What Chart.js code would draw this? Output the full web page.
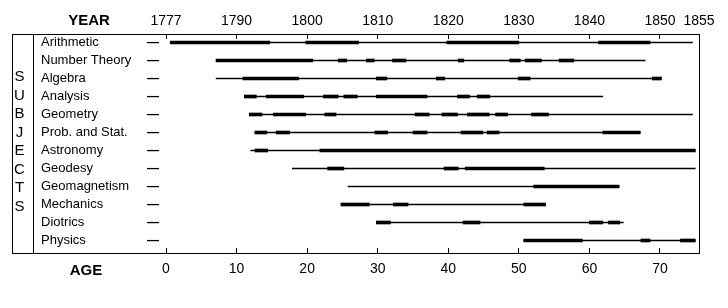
<!DOCTYPE html>
<html><head><meta charset="utf-8">
<script src="https://cdn.jsdelivr.net/npm/chart.js@4.4.1/dist/chart.umd.min.js"></script>
<style>html,body{margin:0;padding:0;background:#fff;}canvas{display:block}</style>
</head><body>
<canvas id="c" width="728" height="308"></canvas>
<script>
// ---- data (ages of Gauss) ----
const subjects = ['Arithmetic','Number Theory','Algebra','Analysis','Geometry','Prob. and Stat.','Astronomy','Geodesy','Geomagnetism','Mechanics','Diotrics','Physics'];
const spanStart = [0.6, 7.1, 7.1, 11.1, 11.8, 12.6, 12.0, 17.9, 25.8, 24.8, 29.8, 50.7];
const spanEnd   = [74.6, 67.9, 70.2, 61.9, 74.6, 67.2, 75.0, 75.0, 64.2, 53.8, 64.8, 75.0];
const intenseSegments = [
  [[0.6,14.7],[19.8,27.3],[39.8,50.0],[61.3,68.6]],
  [[7.1,20.8],[24.4,25.6],[28.4,29.5],[32.1,34.0],[41.4,42.2],[48.7,50.2],[50.9,53.2],[55.7,57.8]],
  [[10.9,18.8],[29.8,31.3],[38.3,39.5],[49.9,51.6],[68.9,70.2]],
  [[11.1,12.8],[14.2,19.5],[22.3,24.4],[25.2,27.1],[29.8,37.0],[41.3,43.0],[44.1,45.9]],
  [[11.8,13.6],[15.2,19.8],[22.5,24.1],[35.3,37.3],[39.1,41.3],[42.7,45.8],[46.7,48.4],[51.8,54.2]],
  [[12.6,14.3],[15.6,17.5],[29.6,31.4],[35.0,37.0],[41.8,44.9],[45.5,47.2],[61.9,67.2]],
  [[12.6,14.4],[21.8,75.0]],
  [[22.9,25.2],[39.4,41.4],[42.4,53.6]],
  [[52.1,64.2]],
  [[24.8,28.8],[32.2,34.3],[50.7,53.8]],
  [[29.8,31.8],[42.1,44.5],[60.0,61.9],[62.7,64.3]],
  [[50.7,59.0],[67.3,68.6],[72.9,75.0]]
];
const ageTicks  = [0,10,20,30,40,50,60,70];
const ageLabels = ['0','10','20','30','40','50','60','70'];
const yearTicks  = [0,10,20,30,40,50,60,70,75.53];
const yearLabels = ['1777','1790','1800','1810','1820','1830','1840','1850','1855'];
const titleLetters = ['S','U','B','J','E','C','T','S'];

// ---- layout constants ----
const X_MIN = -18.85, X_MAX = 75.53;
const Y_MIN = -3.5/18, Y_MAX = 205.5/18;
const FONT = "'Liberation Sans', Arial, sans-serif";

const thinData = subjects.map((s,i)=>({x:[spanStart[i], spanEnd[i]], y:i}));
const thickData = [];
intenseSegments.forEach((segs,i)=>segs.forEach(sg=>thickData.push({x:[sg[0],sg[1]], y:i})));

const rowTicks = s => { s.ticks = subjects.map((_,i)=>({value:i})); };
const fixV = w => s => { s.width = w; s.paddingTop = 0; s.paddingBottom = 0; };

const frame = {
  id:'frame',
  afterDraw(chart){
    const {ctx, chartArea:a} = chart;
    ctx.save();
    ctx.strokeStyle = '#000'; ctx.lineWidth = 1;
    const top = a.top - 4.5, bot = a.bottom + 5.5;
    ctx.strokeRect(12.5, top, a.right + 0.5 - 12.5, bot - top);
    ctx.beginPath(); ctx.moveTo(a.left + 0.5, top); ctx.lineTo(a.left + 0.5, bot); ctx.stroke();
    ctx.fillStyle = '#000';
    ctx.textAlign = 'center'; ctx.textBaseline = 'middle';
    ctx.font = 'bold 15px ' + FONT;
    ctx.fillText('YEAR', 89, 21);
    ctx.fillText('AGE', 86, 270.5);
    ctx.font = '15px ' + FONT;
    titleLetters.forEach((l,k)=>ctx.fillText(l, 19.5, 77 + k*18.5));
    ctx.restore();
  }
};

new Chart(document.getElementById('c'), {
  type:'bar',
  data:{ datasets:[
    {data:thinData, backgroundColor:'#000', borderWidth:0, barThickness:1, grouped:false},
    {data:thickData, backgroundColor:'#000', borderWidth:0, barThickness:3, grouped:false}
  ]},
  options:{
    indexAxis:'y', responsive:false, animation:false, devicePixelRatio:1,
    layout:{padding:{left:0,right:29,top:0,bottom:0}},
    plugins:{legend:{display:false}, tooltip:{enabled:false}},
    scales:{
      x:{type:'linear', position:'bottom', min:X_MIN, max:X_MAX, offset:false,
         afterBuildTicks:s=>{s.ticks = ageTicks.map(v=>({value:v}));},
         afterFit:s=>{s.height = 60;},
         grid:{display:true, drawOnChartArea:false, drawTicks:true, tickLength:5, color:'#000', lineWidth:1},
         border:{display:false},
         ticks:{autoSkip:false, maxRotation:0, padding:8, color:'#000', font:{family:FONT, size:14},
                callback:(v,i)=>ageLabels[i]}},
      xTop:{type:'linear', position:'top', min:X_MIN, max:X_MAX, offset:false,
         afterBuildTicks:s=>{s.ticks = yearTicks.map(v=>({value:v}));},
         afterFit:s=>{s.height = 39;},
         grid:{display:true, drawOnChartArea:false, drawTicks:true, tickLength:5, color:'#000', lineWidth:1},
         border:{display:false},
         ticks:{autoSkip:false, maxRotation:0, padding:4, color:'#000', font:{family:FONT, size:14},
                callback:(v,i)=>yearLabels[i]}},
      y:{type:'linear', position:'left', weight:1, min:Y_MIN, max:Y_MAX, reverse:true, offset:false,
         afterBuildTicks:rowTicks, afterFit:fixV(33),
         grid:{display:false}, border:{display:false},
         ticks:{mirror:true, padding:8, autoSkip:false, color:'#000', font:{family:FONT, size:13},
                callback:(v,i)=>subjects[i]}},
      yDash:{type:'linear', position:'left', weight:0, min:Y_MIN, max:Y_MAX, reverse:true, offset:false,
         afterBuildTicks:rowTicks, afterFit:fixV(0),
         grid:{display:false}, border:{display:false},
         ticks:{mirror:true, padding:114, autoSkip:false, color:'#000', font:{family:FONT, size:12, weight:'bold'},
                callback:()=>'\u2014'}}
    }
  },
  plugins:[frame]
});
</script>
</body></html>
